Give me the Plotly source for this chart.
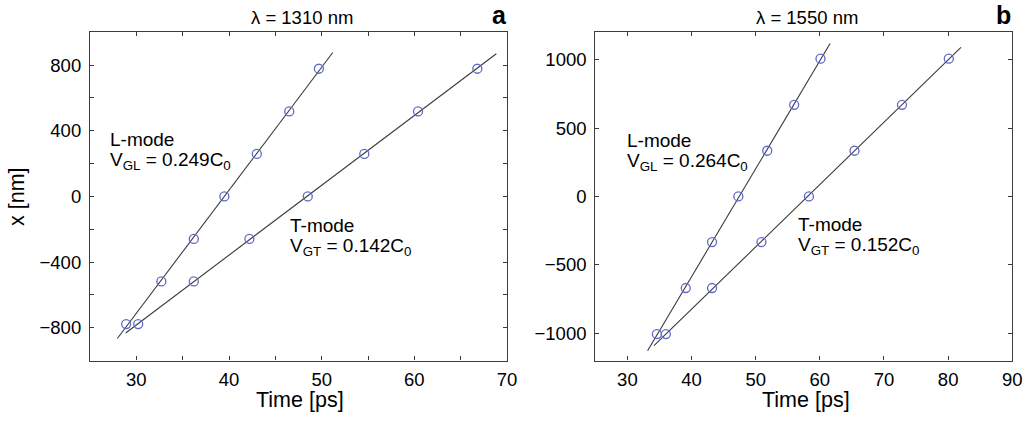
import numpy as np
import plotly.graph_objects as go

# panel a: lambda = 1310 nm
a_L_time = [28.9, 32.7, 36.2, 39.5, 43.0, 46.5, 49.7]
a_T_time = [30.2, 36.2, 42.2, 48.5, 54.6, 60.4, 66.8]
a_x = [-778, -518, -259, 0, 259, 518, 778]
a_L_span = [27.95, 51.2]
a_T_span = [28.85, 68.85]

# panel b: lambda = 1550 nm
b_L_time = [34.6, 39.1, 43.2, 47.3, 51.8, 56.0, 60.1]
b_T_time = [36.0, 43.2, 50.9, 58.3, 65.4, 72.8, 80.1]
b_x = [-1007, -670, -334, 0, 334, 670, 1007]
b_L_span = [33.15, 61.6]
b_T_span = [34.15, 82.0]

FONT = "Liberation Sans, Arial, sans-serif"
W, H = 1031, 422
MARKER = "#5f69c9"
LINE = "#3a3a3a"


def px(x):
    return x / W


def py(y):
    return 1 - y / H


def fit_line(t, x, span):
    k, b = np.polyfit(t, x, 1)
    ts = np.array(span)
    return ts, k * ts + b


fig = go.Figure()

panels = [
    ("x", "y", a_L_time, a_T_time, a_x, a_L_span, a_T_span),
    ("x2", "y2", b_L_time, b_T_time, b_x, b_L_span, b_T_span),
]
for xa, ya, lt, tt, xs, lspan, tspan in panels:
    for t, span in [(lt, lspan), (tt, tspan)]:
        ft, fx = fit_line(t, xs, span)
        fig.add_trace(go.Scatter(x=ft, y=fx, mode="lines", xaxis=xa, yaxis=ya,
                                 line=dict(color=LINE, width=1.1), showlegend=False))
        fig.add_trace(go.Scatter(x=t, y=xs, mode="markers", xaxis=xa, yaxis=ya,
                                 marker=dict(symbol="circle-open", size=9, color=MARKER,
                                             line=dict(width=1.3, color=MARKER)),
                                 showlegend=False))

axis_common = dict(showline=True, linecolor="#3c3c3c", linewidth=1.2, mirror="ticks",
                   ticks="inside", ticklen=4, tickcolor="#3c3c3c", showgrid=False,
                   zeroline=False, automargin=False,
                   tickfont=dict(size=18.5, color="black", family=FONT))

fig.update_layout(
    width=W, height=H,
    margin=dict(l=0, r=0, t=0, b=0, pad=0),
    paper_bgcolor="white", plot_bgcolor="white",
    font=dict(family=FONT, color="black"),
    xaxis=dict(domain=[px(90), px(507)], range=[25, 70], dtick=10, ticklabelstandoff=2,
               minor=dict(dtick=5, ticks="inside", ticklen=4, tickcolor="#3c3c3c"),
               anchor="y", **axis_common),
    yaxis=dict(domain=[py(360.5), py(32.3)], range=[-1000, 1000], dtick=400,
               ticklabelstandoff=4,
               minor=dict(dtick=200, ticks="inside", ticklen=4, tickcolor="#3c3c3c"),
               anchor="x", **axis_common),
    xaxis2=dict(domain=[px(595.3), px(1012.3)], range=[25, 90], dtick=10,
                ticklabelstandoff=2, anchor="y2", **axis_common),
    yaxis2=dict(domain=[py(360.5), py(32.3)], range=[-1200, 1200], dtick=500,
                ticklabelstandoff=4, anchor="x2", **axis_common),
)

texts = [
    # (text, x px, y px, size, anchor)
    ("λ = 1310 nm", 302, 17, 18.5, "center"),
    ("λ = 1550 nm", 807, 17, 18.5, "center"),
    ("<b>a</b>", 499, 15, 25, "center"),
    ("<b>b</b>", 1003, 15, 25, "center"),
    ("Time [ps]", 300, 400, 21.5, "center"),
    ("Time [ps]", 806, 400, 21.5, "center"),
    ("L-mode", 108, 139, 19, "left"),
    ("V<sub>GL</sub> = 0.249C<sub>0</sub>", 108, 161, 19, "left"),
    ("T-mode", 288, 225, 19, "left"),
    ("V<sub>GT</sub> = 0.142C<sub>0</sub>", 288, 247, 19, "left"),
    ("L-mode", 625, 140, 19, "left"),
    ("V<sub>GL</sub> = 0.264C<sub>0</sub>", 625, 162, 19, "left"),
    ("T-mode", 796, 224, 19, "left"),
    ("V<sub>GT</sub> = 0.152C<sub>0</sub>", 796, 246, 19, "left"),
]
for txt, x, y, size, anchor in texts:
    fig.add_annotation(text=txt, x=px(x), y=py(y), xref="paper", yref="paper",
                       xanchor=anchor, yanchor="middle", showarrow=False,
                       font=dict(size=size, family=FONT, color="black"))

fig.add_annotation(text="x [nm]", x=px(17), y=py(197), xref="paper", yref="paper",
                   textangle=-90, showarrow=False, xanchor="center", yanchor="middle",
                   font=dict(size=21.5, family=FONT, color="black"))

# drop the default page margin so the figure sits at the window's top-left corner
fig.write_html("out.html", config={"displayModeBar": False},
               post_script="document.body.style.margin='0';")
